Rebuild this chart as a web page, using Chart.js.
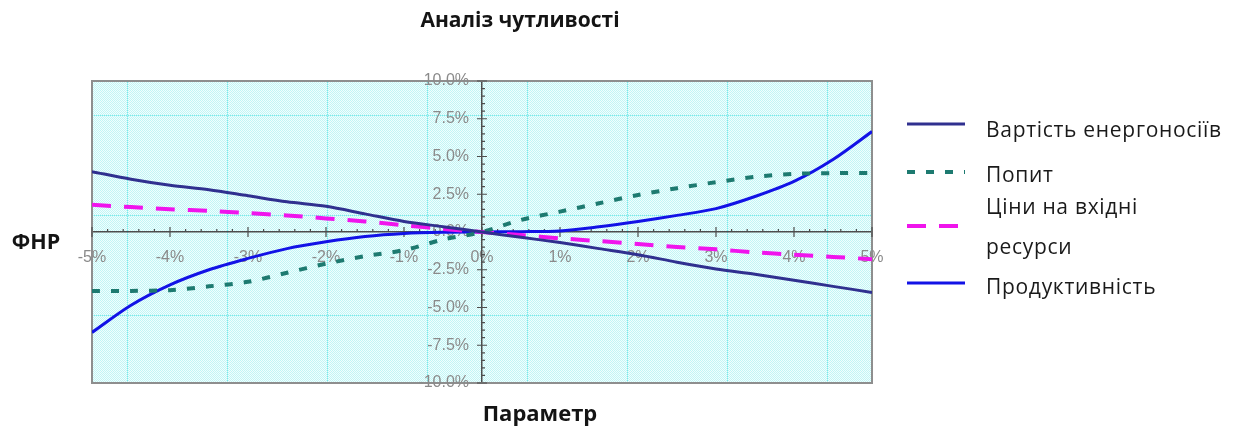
<!DOCTYPE html>
<html lang="uk">
<head>
<meta charset="utf-8">
<title>Аналіз чутливості</title>
<script src="https://cdn.jsdelivr.net/npm/chart.js@4.4.1/dist/chart.umd.min.js"></script>
<style>
  html, body { margin: 0; padding: 0; background: #ffffff; }
  #wrap { position: relative; width: 1240px; height: 428px; overflow: hidden; }
  #chart { position: absolute; left: 0; top: 0; }
  .lbl {
    position: absolute; white-space: nowrap; color: #141414;
    font-family: "Open Sans", "Noto Sans", sans-serif; font-weight: 700;
    transform: translate(-50%, -50%);
  }
</style>
</head>
<body>
<div id="wrap">
  <canvas id="chart" width="1240" height="428"></canvas>
  <div class="lbl" style="left:520px; top:19px; font-size:21px;">Аналіз чутливості</div>
  <div class="lbl" style="left:36px; top:240px; font-size:21.5px;">ФНР</div>
  <div class="lbl" style="left:540px; top:412px; font-size:22px;">Параметр</div>
</div>
<script>
// Parameter change, %
const paramSteps = [-5, -4.5, -4, -3.5, -3, -2.5, -2, -1.5, -1, -0.5, 0,
                    0.5, 1, 1.5, 2, 2.5, 3, 3.5, 4, 4.5, 5];

// Change of the financial result (ФНР), % — one list per factor
const energyCost = [4.0, 3.5, 3.1, 2.8, 2.4, 2.0, 1.7, 1.2, 0.7, 0.35, 0,
                    -0.35, -0.7, -1.1, -1.5, -2.0, -2.45, -2.8, -3.2, -3.6, -4.0];
const demand = [-3.9, -3.9, -3.85, -3.6, -3.3, -2.7, -2.1, -1.6, -1.2, -0.5, 0,
                0.8, 1.35, 1.9, 2.45, 2.9, 3.3, 3.65, 3.85, 3.9, 3.9];
const inputPrices = [1.8, 1.65, 1.5, 1.4, 1.25, 1.1, 0.9, 0.7, 0.45, 0.2, 0,
                     -0.2, -0.42, -0.6, -0.8, -1.0, -1.15, -1.35, -1.5, -1.65, -1.8];
const productivity = [-6.65, -4.85, -3.5, -2.5, -1.75, -1.1, -0.65, -0.3, -0.1, -0.02, 0,
                      0.02, 0.07, 0.35, 0.7, 1.1, 1.55, 2.35, 3.35, 4.8, 6.65];

// Series names (legend lines)
const seriesNames = [
  ['Вартість енергоносіїв'],
  ['Попит'],
  ['Ціни на вхідні', 'ресурси'],
  ['Продуктивність']
];

// Axis ticks
const xTicks = [-5, -4, -3, -2, -1, 0, 1, 2, 3, 4, 5];
const yTicks = [-10, -7.5, -5, -2.5, 0, 2.5, 5, 7.5, 10];
const formatY = v => v.toFixed(1) + '%';

const toPoints = values => values.map((v, i) => ({ x: paramSteps[i], y: v }));

// Light cyan dotted fill of the plot area with a sparse dotted grid
function makePlotPattern(ctx) {
  const tile = document.createElement('canvas');
  tile.width = 100; tile.height = 100;
  const t = tile.getContext('2d');
  for (let y = 0; y < 100; y++) {
    for (let x = 0; x < 100; x++) {
      t.fillStyle = ((x + y) % 2 === 0) ? '#c2f5f5' : '#f0fefe';
      t.fillRect(x, y, 1, 1);
    }
  }
  for (let i = 0; i < 100; i++) {
    t.fillStyle = (i % 2 === 0) ? '#7aeaea' : '#b4f4f4';
    t.fillRect(27, i, 1, 1);
    t.fillRect(i, 15, 1, 1);
  }
  return ctx.createPattern(tile, 'repeat');
}

const tickFont = { family: '"Liberation Sans", Arial, sans-serif', size: 16 };

const plotBackground = {
  id: 'plotBackground',
  beforeDraw(chart) {
    const { ctx, chartArea: a } = chart;
    ctx.save();
    ctx.fillStyle = makePlotPattern(ctx);
    ctx.fillRect(a.left, a.top, a.right - a.left, a.bottom - a.top);
    ctx.restore();
  },
  beforeDatasetsDraw(chart) {
    const { ctx, chartArea: a, scales } = chart;
    ctx.save();
    // plot frame
    ctx.strokeStyle = '#8e8e8e';
    ctx.lineWidth = 2;
    ctx.strokeRect(a.left, a.top, a.right - a.left, a.bottom - a.top);

    // major and minor tick marks on both crossing axes
    ctx.strokeStyle = '#4d4d4d';
    ctx.lineWidth = 1.2;
    const x0 = scales.x.getPixelForValue(0);
    const y0 = scales.y.getPixelForValue(0);
    ctx.beginPath();
    for (let k = 0; k < xTicks.length; k++) {
      const px = scales.x.getPixelForValue(xTicks[k]);
      ctx.moveTo(px, y0 - 5); ctx.lineTo(px, y0 + 5);
      if (k < xTicks.length - 1) {
        const step = (xTicks[k + 1] - xTicks[k]) / 5;
        for (let m = 1; m < 5; m++) {
          const mx = scales.x.getPixelForValue(xTicks[k] + m * step);
          ctx.moveTo(mx, y0 - 3); ctx.lineTo(mx, y0);
        }
      }
    }
    for (let k = 0; k < yTicks.length; k++) {
      const py = scales.y.getPixelForValue(yTicks[k]);
      ctx.moveTo(x0 - 5, py); ctx.lineTo(x0 + 5, py);
      if (k < yTicks.length - 1) {
        const step = (yTicks[k + 1] - yTicks[k]) / 5;
        for (let m = 1; m < 5; m++) {
          const my = scales.y.getPixelForValue(yTicks[k] + m * step);
          ctx.moveTo(x0, my); ctx.lineTo(x0 + 3, my);
        }
      }
    }
    ctx.stroke();

    // value labels of the vertical axis, left of the crossing line
    ctx.fillStyle = '#8a8a8a';
    ctx.font = tickFont.size + 'px ' + tickFont.family;
    ctx.textAlign = 'right';
    ctx.textBaseline = 'middle';
    yTicks.forEach(v => ctx.fillText(formatY(v), x0 - 13, scales.y.getPixelForValue(v)));
    ctx.restore();
  }
};

// Legend at the right, with wrapped names
const sideLegend = {
  id: 'sideLegend',
  afterDraw(chart) {
    const { ctx } = chart;
    const sampleX0 = 907, sampleX1 = 965, textX = 986;
    const rows = [
      { sample: 124, text: [131] },
      { sample: 172, text: [176] },
      { sample: 226, text: [208, 248] },
      { sample: 283, text: [288] }
    ];
    ctx.save();
    chart.data.datasets.forEach((ds, i) => {
      const r = rows[i];
      ctx.strokeStyle = ds.borderColor;
      ctx.lineWidth = ds.borderWidth;
      ctx.setLineDash(ds.borderDash || []);
      ctx.beginPath();
      ctx.moveTo(sampleX0, r.sample);
      ctx.lineTo(sampleX1, r.sample);
      ctx.stroke();
      ctx.setLineDash([]);
      ctx.fillStyle = '#1a1a1a';
      ctx.font = '21px "Open Sans", "Noto Sans", sans-serif';
      ctx.letterSpacing = '0.7px';
      ctx.textBaseline = 'middle';
      ctx.textAlign = 'left';
      seriesNames[i].forEach((line, j) => ctx.fillText(line, textX, r.text[j]));
    });
    ctx.restore();
  }
};

new Chart(document.getElementById('chart'), {
  type: 'line',
  data: {
    datasets: [
      {
        label: seriesNames[0].join(' '),
        data: toPoints(energyCost),
        borderColor: '#30308f', borderWidth: 3, tension: 0.3
      },
      {
        label: seriesNames[1].join(' '),
        data: toPoints(demand),
        borderColor: '#1d7a70', borderWidth: 4, borderDash: [8, 11], tension: 0.3
      },
      {
        label: seriesNames[2].join(' '),
        data: toPoints(inputPrices),
        borderColor: '#f014ec', borderWidth: 4, borderDash: [19, 13], tension: 0.3
      },
      {
        label: seriesNames[3].join(' '),
        data: toPoints(productivity),
        borderColor: '#1212e6', borderWidth: 3, tension: 0.3
      }
    ]
  },
  options: {
    responsive: false,
    animation: false,
    events: [],
    layout: { padding: { left: 92, right: 368, top: 81, bottom: 45 } },
    elements: { point: { radius: 0 }, line: { fill: false, borderCapStyle: 'butt' } },
    plugins: { legend: { display: false }, title: { display: false }, tooltip: { enabled: false } },
    scales: {
      x: {
        type: 'linear', min: -5, max: 5,
        position: { y: 0 },
        afterFit: s => { s.height = 0; },
        afterBuildTicks: s => { s.ticks = xTicks.map(v => ({ value: v })); },
        grid: { drawOnChartArea: false, drawTicks: false },
        border: { display: true, color: '#4d4d4d', width: 1.5 },
        ticks: {
          autoSkip: false, maxRotation: 0, padding: 16,
          color: '#8a8a8a', font: tickFont,
          callback: v => v + '%'
        }
      },
      y: {
        type: 'linear', min: -10, max: 10,
        position: { x: 0 },
        afterFit: s => { s.width = 0; },
        afterBuildTicks: s => { s.ticks = yTicks.map(v => ({ value: v })); },
        grid: { drawOnChartArea: false, drawTicks: false },
        border: { display: true, color: '#4d4d4d', width: 1.5 },
        ticks: { display: false }
      }
    }
  },
  plugins: [plotBackground, sideLegend]
});
</script>
</body>
</html>
